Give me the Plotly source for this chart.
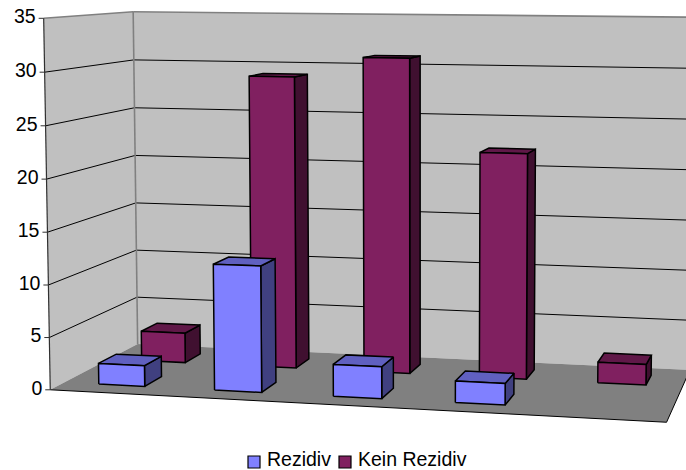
import numpy as np
import plotly.graph_objects as go

# Chart data
categories = ["1", "2", "3", "4", "5"]
rezidiv = [2, 12, 3, 2, 0]
kein_rezidiv = [3, 29, 31, 22, 2]
value_ticks = [0, 5, 10, 15, 20, 25, 30, 35]
series_names = ["Rezidiv", "Kein Rezidiv"]

# Palette: (front, top, side) for each series
REZ_COLORS = ("#8080FF", "#6060C0", "#404080")
KEIN_COLORS = ("#802060", "#601848", "#401030")
WALL = "#C0C0C0"
FLOOR = "#808080"
FONT = "Liberation Sans"
TEXT_SIZE = 19.5

W, H = 686, 470
N = len(categories)
Y_MAX = value_ticks[-1]

# Camera fit: world (category position, depth 0..1, value) to page pixels
anchors = [
    ((0, 0, 0), (50, 389)), ((0, 0, 35), (43, 19)),
    ((0, 1, 0), (138, 344)), ((0, 1, 35), (133, 11)),
    ((5, 0, 0), (666, 422)), ((5, 1, 0), (687, 371)),
    ((5, 1, 35), (694, 15.3)), ((5, 1, 30), (693, 67)),
    ((5, 1, 25), (692, 119)), ((5, 1, 20), (691.5, 170)),
    ((0, 1, 30), (134, 59)), ((0, 1, 25), (135, 108)),
    ((0, 0, 30), (44, 74)), ((0, 0, 25), (45, 126)),
    ((0, 0, 5), (49, 337)),
    # floor footprints along the two depth rows
    ((0.7, 0.65, 0), (185, 362.7)), ((1.7, 0.65, 0), (295, 368)),
    ((2.3, 0.65, 0), (363, 373)), ((2.7, 0.65, 0), (410, 374.7)),
    ((3.7, 0.65, 0), (528, 379)), ((4.3, 0.65, 0), (599, 382.7)),
    ((4.7, 0.65, 0), (649, 386)),
    ((0.3, 0.15, 0), (99, 382.7)), ((0.7, 0.15, 0), (145, 386)),
    ((1.3, 0.15, 0), (214, 389)), ((1.7, 0.15, 0), (262, 392)),
    ((2.3, 0.15, 0), (333, 395.7)), ((2.7, 0.15, 0), (382, 399)),
    ((3.3, 0.15, 0), (455, 401.7)), ((3.7, 0.15, 0), (505, 405)),
    # upper corners of the tall rear row
    ((1.3, 0.65, 29), (249, 77.3)), ((1.7, 0.65, 29), (295, 77.5)),
    ((2.3, 0.65, 31), (364, 58)), ((2.7, 0.65, 31), (411, 58.5)),
    ((3.3, 0.65, 22), (480, 153)), ((3.7, 0.65, 22), (530, 154)),
]
rows, rhs = [], []
for (a, b, c), (u, v) in anchors:
    rows.append([a, b, c, 1, 0, 0, 0, 0, -u * a, -u * b, -u * c])
    rows.append([0, 0, 0, 0, a, b, c, 1, -v * a, -v * b, -v * c])
    rhs += [u, v]
cam = np.linalg.lstsq(np.array(rows, float), np.array(rhs, float), rcond=None)[0]
cam = np.append(cam, 1.0).reshape(3, 4)


def project(x, d, y):
    p = cam @ np.array([x, d, y, 1.0])
    return p[0] / p[2], p[1] / p[2]


def polygons(faces):
    """Join closed faces into one x/y path, separated by gaps."""
    xs, ys = [], []
    for face in faces:
        pts = [project(*c) for c in face]
        pts.append(pts[0])
        xs += [p[0] for p in pts] + [None]
        ys += [p[1] for p in pts] + [None]
    return xs, ys


def segments(pairs):
    xs, ys = [], []
    for a, b in pairs:
        pa, pb = project(*a), project(*b)
        xs += [pa[0], pb[0], None]
        ys += [pa[1], pb[1], None]
    return xs, ys


fig = go.Figure()


def add_fill(faces, fill, line=None, width=0, name=""):
    xs, ys = polygons(faces)
    fig.add_trace(go.Scatter(
        x=xs, y=ys, mode="lines", fill="toself", fillcolor=fill, name=name,
        line=dict(color=line or fill, width=width), hoverinfo="skip",
    ))


def add_lines(pairs, color, width):
    xs, ys = segments(pairs)
    fig.add_trace(go.Scatter(
        x=xs, y=ys, mode="lines", line=dict(color=color, width=width),
        hoverinfo="skip",
    ))


# Walls and floor
add_fill([[(0, 0, 0), (0, 1, 0), (0, 1, Y_MAX), (0, 0, Y_MAX)]], WALL)
add_fill([[(0, 1, 0), (5, 1, 0), (5, 1, Y_MAX), (0, 1, Y_MAX)]], WALL)
add_fill([[(0, 0, 0), (5, 0, 0), (5, 1, 0), (0, 1, 0)]], FLOOR)

# Gridlines run along the side wall and then the back wall
grid = []
for v in value_ticks[1:-1]:
    grid += [((0, 0, v), (0, 1, v)), ((0, 1, v), (5, 1, v))]
add_lines(grid, "#000000", 1)

# Wall outline
add_lines([((0, 0, Y_MAX), (0, 1, Y_MAX)), ((0, 1, Y_MAX), (5, 1, Y_MAX)),
           ((0, 1, Y_MAX), (0, 1, 0))], "#808080", 1.6)
# Floor edges and value axis
add_lines([((0, 0, 0), (5, 0, 0)), ((5, 0, 0), (5, 1, 0))], "#000000", 1)
add_lines([((0, 0, 0), (0, 0, Y_MAX))], "#303030", 1.2)


def add_series(values, d0, d1, colors, name):
    """Bars in one depth row; gap width 150 leaves 40% of each slot filled."""
    front, top, side = [], [], []
    for i, v in enumerate(values):
        if v <= 0:
            continue
        x0, x1 = i + 0.3, i + 0.7
        front.append([(x0, d0, 0), (x1, d0, 0), (x1, d0, v), (x0, d0, v)])
        top.append([(x0, d0, v), (x1, d0, v), (x1, d1, v), (x0, d1, v)])
        side.append([(x1, d0, 0), (x1, d1, 0), (x1, d1, v), (x1, d0, v)])
    add_fill(side, colors[2], "#000000", 1.5, name)
    add_fill(top, colors[1], "#000000", 1.5, name)
    add_fill(front, colors[0], "#000000", 1.5, name)


add_series(kein_rezidiv, 0.65, 0.85, KEIN_COLORS, series_names[1])
add_series(rezidiv, 0.15, 0.35, REZ_COLORS, series_names[0])

# Tick marks and value labels
tick_x, tick_y, label_x, label_y = [], [], [], []
for v in value_ticks:
    px, py = project(0, 0, v)
    tick_x += [px - 5, px, None]
    tick_y += [py, py, None]
    label_x.append(px - 8)
    label_y.append(py)
fig.add_trace(go.Scatter(x=tick_x, y=tick_y, mode="lines",
                         line=dict(color="#303030", width=1), hoverinfo="skip"))
fig.add_trace(go.Scatter(
    x=label_x, y=label_y, mode="text", text=[str(v) for v in value_ticks],
    textposition="middle left", hoverinfo="skip",
    textfont=dict(family=FONT, size=TEXT_SIZE, color="#000000"),
))

# Legend row
fig.add_trace(go.Scatter(
    x=[254, 345], y=[462, 462], mode="markers", hoverinfo="skip",
    marker=dict(symbol="square", size=12, color=[REZ_COLORS[0], KEIN_COLORS[0]],
                line=dict(color="#000000", width=1.2)),
))
fig.add_trace(go.Scatter(
    x=[267, 358], y=[461, 461], mode="text", text=series_names,
    textposition="middle right", hoverinfo="skip",
    textfont=dict(family=FONT, size=TEXT_SIZE, color="#000000"),
))

fig.update_layout(
    width=W, height=H, autosize=False, showlegend=False,
    margin=dict(l=0, r=0, t=0, b=0),
    paper_bgcolor="#FFFFFF", plot_bgcolor="#FFFFFF",
    xaxis=dict(range=[0, W], visible=False, fixedrange=True),
    yaxis=dict(range=[H, 0], visible=False, fixedrange=True),
)
fig.write_html("out.html", config={"displayModeBar": False})
